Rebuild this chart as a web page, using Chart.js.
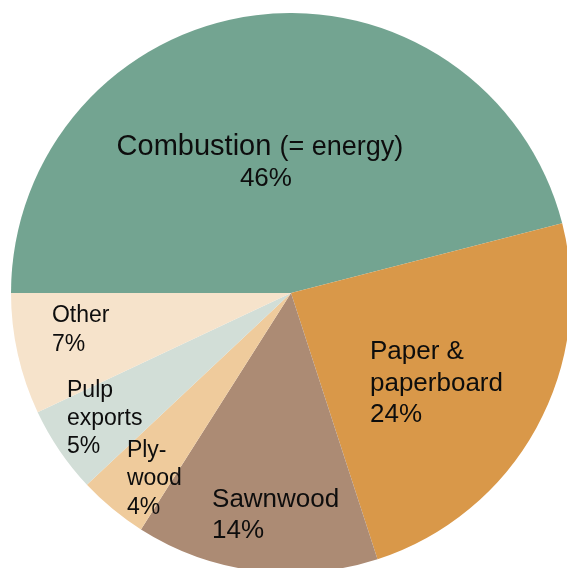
<!DOCTYPE html>
<html>
<head>
<meta charset="utf-8">
<script src="https://cdn.jsdelivr.net/npm/chart.js@4/dist/chart.umd.min.js"></script>
<style>
    html, body { margin: 0; padding: 0; overflow: hidden; background: #fff; width: 567px; height: 568px; }
    #wrap { position: absolute; left: 11px; top: 13px; width: 560px; height: 560px; }
</style>
</head>
<body>
<div id="wrap"><canvas id="woodChart" width="560" height="560"></canvas></div>
<script>
// Shares of wood use, percent
const categories = ['Combustion (= energy)', 'Paper & paperboard', 'Sawnwood', 'Plywood', 'Pulp exports', 'Other'];
const shares = [46, 24, 14, 4, 5, 7];
const sliceColors = ['#73a491', '#d99849', '#ac8b74', '#efcb9c', '#d2ded7', '#f6e3cb'];
// how each label is broken into lines inside its slice
const labelLines = [['Combustion', '(= energy)'], ['Paper &', 'paperboard'], ['Sawnwood'], ['Ply-', 'wood'], ['Pulp', 'exports'], ['Other']];

// label anchors, as fractions of the pie radius from its centre
const labelPlacement = [
    { fx: -0.111, fy: -0.493, size: 29, lh: 31.5, center: true },
    { fx: 0.282, fy: 0.236, size: 26, lh: 31.5 },
    { fx: -0.282, fy: 0.7625, size: 26, lh: 31.5 },
    { fx: -0.586, fy: 0.584, size: 23, lh: 28.7 },
    { fx: -0.8, fy: 0.371, size: 23, lh: 28 },
    { fx: -0.854, fy: 0.104, size: 23, lh: 29 },
];

const FONT = '"Liberation Sans", Arial, sans-serif';

const sliceLabels = {
    id: 'sliceLabels',
    afterDatasetsDraw(chart) {
        const ctx = chart.ctx;
        const meta = chart.getDatasetMeta(0);
        const total = shares.reduce((a, b) => a + b, 0);
        ctx.save();
        ctx.fillStyle = '#0d0d0d';
        ctx.textBaseline = 'alphabetic';
        meta.data.forEach((arc, i) => {
            const p = labelPlacement[i];
            const r = arc.outerRadius;
            const x = arc.x + p.fx * r;
            let y = arc.y + p.fy * r;
            const pct = Math.round(shares[i] / total * 100) + '%';
            if (p.center) {
                // first line: big word + smaller parenthetical
                const big = p.size + 'px ' + FONT;
                const small = (p.size - 2) + 'px ' + FONT;
                ctx.font = big;
                const w1 = ctx.measureText(labelLines[i][0] + ' ').width;
                ctx.font = small;
                const w2 = ctx.measureText(labelLines[i][1]).width;
                let sx = x - (w1 + w2) / 2;
                ctx.textAlign = 'left';
                ctx.font = big;
                ctx.fillText(labelLines[i][0], sx, y);
                ctx.font = small;
                ctx.fillText(labelLines[i][1], sx + w1, y);
                ctx.font = '26px ' + FONT;
                ctx.textAlign = 'center';
                ctx.fillText(pct, x + 6, y + p.lh);
                return;
            }
            ctx.textAlign = 'left';
            ctx.font = p.size + 'px ' + FONT;
            labelLines[i].concat([pct]).forEach((line, k) => {
                ctx.fillText(line, x, y + k * p.lh);
            });
        });
        ctx.restore();
    }
};

document.addEventListener('DOMContentLoaded', () => {
    const ctx = document.getElementById('woodChart').getContext('2d');
    new Chart(ctx, {
        type: 'pie',
        data: {
            labels: categories,
            datasets: [{
                data: shares,
                backgroundColor: sliceColors,
                borderWidth: 0,
            }],
        },
        options: {
            responsive: false,
            animation: false,
            rotation: -90,
            layout: { padding: 0 },
            plugins: {
                legend: { display: false },
                tooltip: { enabled: false },
            },
        },
        plugins: [sliceLabels],
    });
});
</script>
</body>
</html>
